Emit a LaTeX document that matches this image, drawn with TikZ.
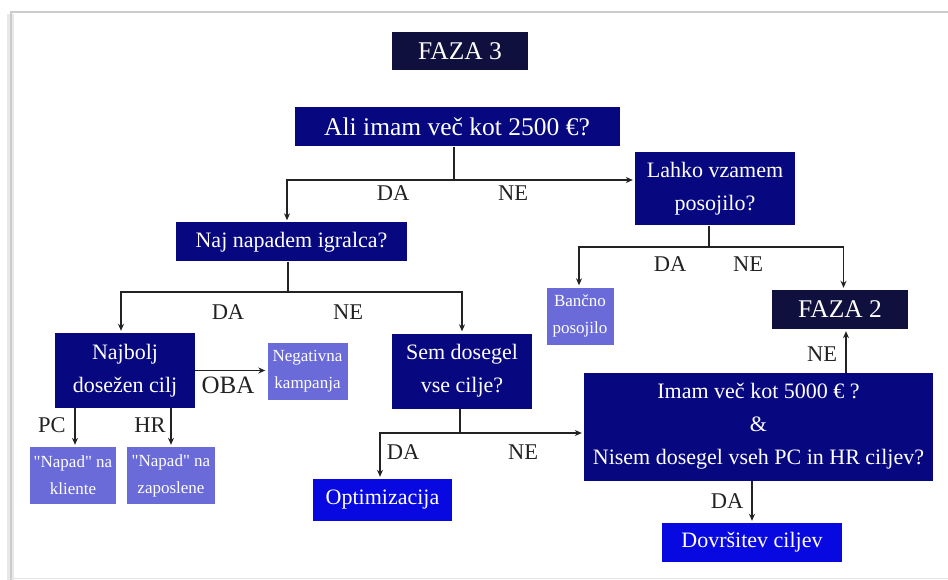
\documentclass[tikz,border=0pt]{standalone}
\usepackage{fontspec}
\setmainfont{Liberation Serif}[Ligatures=TeXOff]
\usetikzlibrary{positioning,arrows.meta,calc}
\definecolor{phaseNavy}{HTML}{10103E}
\definecolor{askNavy}{HTML}{07077F}
\definecolor{actLilac}{HTML}{6A6AD8}
\definecolor{goalBlue}{HTML}{0808E0}
\definecolor{wireGray}{HTML}{222222}

\begin{document}
\begin{tikzpicture}[x=1pt, y=-1pt, >={Stealth[length=7pt,width=6pt]},
    box/.style={text=white, inner sep=0pt, align=center, font=\fontsize{22}{33}\selectfont},
    phase/.style={box, fill=phaseNavy, font=\fontsize{25.5}{30}\selectfont},
    ask/.style={box, fill=askNavy},
    act/.style={box, fill=actLilac, font=\fontsize{17}{27}\selectfont},
    goal/.style={box, fill=goalBlue},
    wire/.style={draw=wireGray, line width=1.5pt},
    tip/.style={wire, ->, shorten >=2pt},
    lbl/.style={text=wireGray, inner sep=0pt, font=\fontsize{22.5}{26}\selectfont}]
        \useasboundingbox (0,0) rectangle (948,580);
        \fill[gray!18] (7,14) rectangle (14,580);
        \draw[gray!40, line width=1.5pt] (11,580) -- (11,12) -- (948,12);
        \draw[gray!22, line width=1pt] (11,578) -- (948,578);

        \node[phase, minimum width=136, minimum height=38] (faza3) at (460,51) {FAZA 3};
        \node[ask, minimum width=325, minimum height=39, font=\fontsize{25.5}{30}\selectfont] (q2500) at (457,127) {Ali imam več kot 2500 €?};
        \node[ask, minimum width=160, minimum height=73] (posojilo) at (715,189) {Lahko vzamem\\posojilo?};
        \node[ask, minimum width=231, minimum height=39] (napad) at (291.5,242) {Naj napadem igralca?};
        \node[act, minimum width=67, minimum height=57] (bank) at (580,316) {Bančno\\posojilo};
        \node[phase, minimum width=136, minimum height=39] (faza2) at (840,309.5) {FAZA 2};
        \node[ask, minimum width=140, minimum height=75] (najbolj) at (125,370.5) {Najbolj\\dosežen cilj};
        \node[act, minimum width=80, minimum height=57] (negativna) at (307.5,371.5) {Negativna\\kampanja};
        \node[ask, minimum width=140, minimum height=75] (sem) at (462,371) {Sem dosegel\\vse cilje?};
        \node[ask, minimum width=349, minimum height=108] (q5000) at (758.5,426.5) {Imam več kot 5000 € ?\\\&\\Nisem dosegel vseh PC in HR ciljev?};
        \node[act, minimum width=86, minimum height=57] (klienti) at (73,475.5) {"Napad" na\\kliente};
        \node[act, minimum width=88, minimum height=57] (zaposleni) at (171,475.5) {"Napad" na\\zaposlene};
        \node[goal, minimum width=139, minimum height=42] (optim) at (382.5,500) {Optimizacija};
        \node[goal, minimum width=180, minimum height=39] (dovrsitev) at (752,542.5) {Dovršitev ciljev};

        \coordinate (s1) at (454,180);
        \coordinate (s2) at (288,292);
        \coordinate (s3) at (709,247);
        \coordinate (s4) at (460,433);
        \coordinate (up) at (846,372.5);

        \draw[wire] (q2500.south -| s1) -- (s1);
        \draw[tip] (s1) -| ([xshift=-4.5pt]napad.north);
        \draw[tip] (s1) -- (posojilo.west |- s1);
        \draw[wire] (napad.south -| s2) -- (s2);
        \draw[tip] (s2) -| ([xshift=-4pt]najbolj.north);
        \draw[tip] (s2) -| (sem.north);
        \draw[wire] (posojilo.south -| s3) -- (s3);
        \draw[tip] (s3) -| ([xshift=-1pt]bank.north);
        \draw[tip] (s3) -| ([xshift=3.5pt]faza2.north);
        \draw[tip] (najbolj.east) -- (negativna.west |- najbolj.east);
        \draw[tip] ([xshift=2pt]najbolj.south -| klienti) -- ([xshift=2pt]klienti.north);
        \draw[tip] (najbolj.south -| zaposleni) -- (zaposleni.north);
        \draw[wire] (sem.south -| s4) -- (s4);
        \draw[tip] (s4) -| ([xshift=-2.5pt]optim.north);
        \draw[tip] (s4) -- (q5000.west |- s4);
        \draw[tip] (up) -- (up |- faza2.south);
        \draw[tip] (q5000.south -| dovrsitev) -- (dovrsitev.north);

        \node[lbl] (da1) at (393,193) {DA};
        \node[lbl] (ne1) at (513,193) {NE};
        \node[lbl] (da2) at (228,312) {DA};
        \node[lbl] (ne2) at (348,312) {NE};
        \node[lbl] (da3) at (670,264) {DA};
        \node[lbl] (ne3) at (748,264) {NE};
        \node[lbl, font=\fontsize{25}{30}\selectfont] (oba) at (228,385) {OBA};
        \node[lbl] (pc) at (52,425) {PC};
        \node[lbl] (hr) at (150,425) {HR};
        \node[lbl] (da4) at (403,452) {DA};
        \node[lbl] (ne4) at (523,452) {NE};
        \node[lbl] (ne5) at (822,354) {NE};
        \node[lbl] (da5) at (727,501) {DA};
      \end{tikzpicture}
\end{document}
